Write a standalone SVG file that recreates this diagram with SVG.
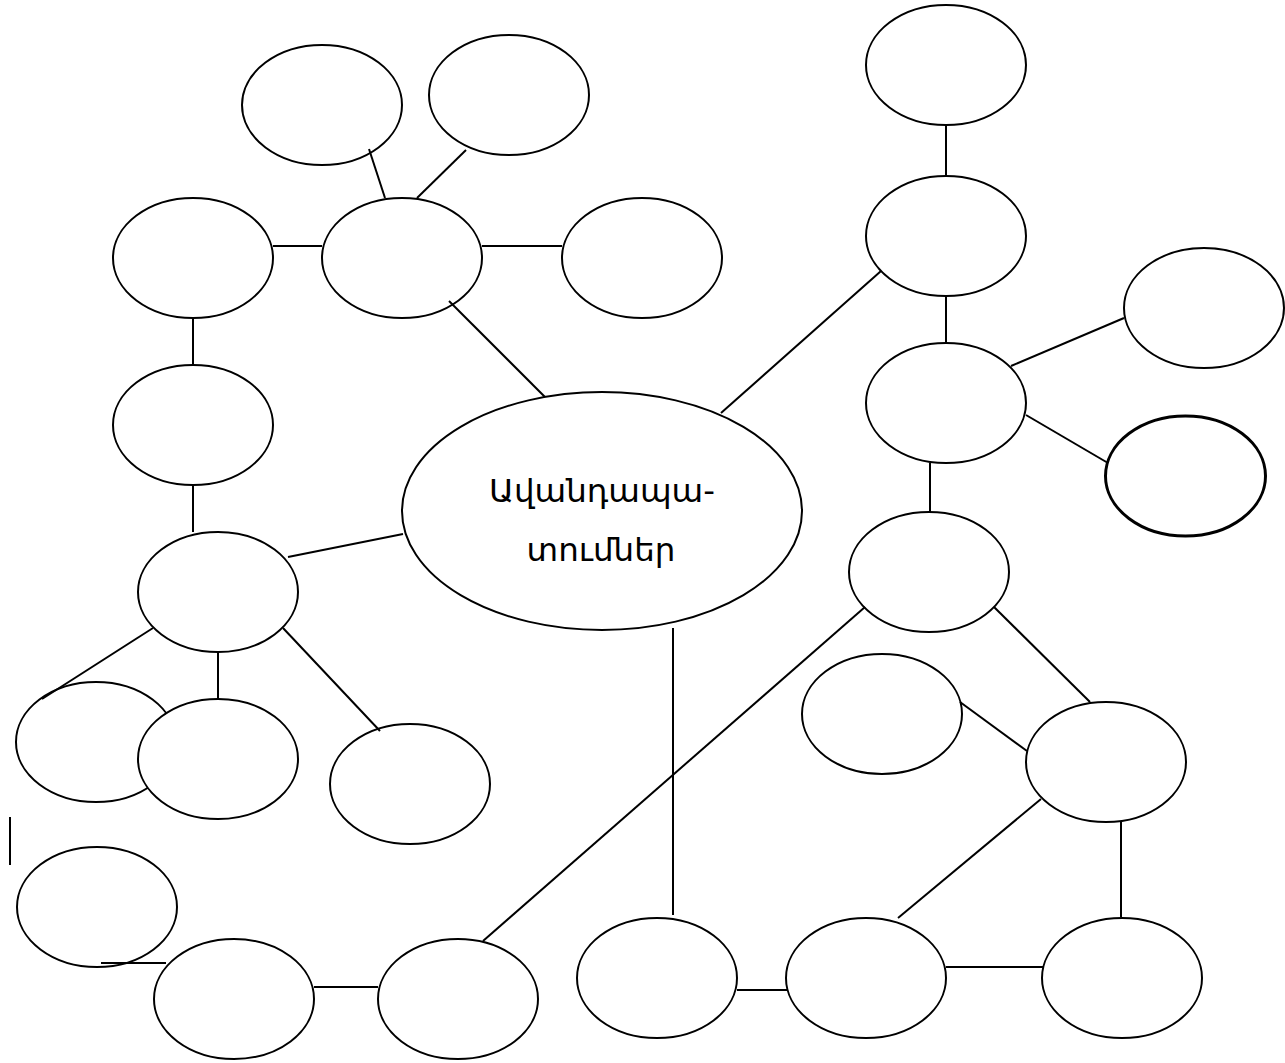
<svg xmlns="http://www.w3.org/2000/svg" width="1285" height="1063" viewBox="0 0 1285 1063">
<style>
.n ellipse{fill:#fff;stroke:#000;stroke-width:2}
.n ellipse.thick{stroke-width:3}
.c line{stroke:#000;stroke-width:2}
.t{font-family:"DejaVu Sans","Noto Sans",sans-serif;font-size:32.5px;fill:#000;text-anchor:middle}
</style>
<rect width="1285" height="1063" fill="#fff"/>
<g class="n">
<g id="center"><ellipse cx="602" cy="511" rx="200" ry="119"/><text class="t" x="602" y="502">Ավանդապա-</text><text class="t" x="601" y="561">տումներ</text></g>
<g id="n1"><ellipse cx="322" cy="105" rx="80" ry="60"/></g>
<g id="n2"><ellipse cx="509" cy="95" rx="80" ry="60"/></g>
<g id="n3"><ellipse cx="193" cy="258" rx="80" ry="60"/></g>
<g id="n4"><ellipse cx="402" cy="258" rx="80" ry="60"/></g>
<g id="n5"><ellipse cx="642" cy="258" rx="80" ry="60"/></g>
<g id="n6"><ellipse cx="193" cy="425" rx="80" ry="60"/></g>
<g id="n7"><ellipse cx="218" cy="592" rx="80" ry="60"/></g>
<g id="n8"><ellipse cx="96" cy="742" rx="80" ry="60"/></g>
<g id="n9"><ellipse cx="218" cy="759" rx="80" ry="60"/></g>
<g id="n10"><ellipse cx="410" cy="784" rx="80" ry="60"/></g>
<g id="n11"><ellipse cx="97" cy="907" rx="80" ry="60"/></g>
<g id="n12"><ellipse cx="234" cy="999" rx="80" ry="60"/></g>
<g id="n13"><ellipse cx="458" cy="999" rx="80" ry="60"/></g>
<g id="n14"><ellipse cx="657" cy="978" rx="80" ry="60"/></g>
<g id="n15"><ellipse cx="866" cy="978" rx="80" ry="60"/></g>
<g id="n16"><ellipse cx="1122" cy="978" rx="80" ry="60"/></g>
<g id="n17"><ellipse cx="1106" cy="762" rx="80" ry="60"/></g>
<g id="n18"><ellipse cx="882" cy="714" rx="80" ry="60"/></g>
<g id="n19"><ellipse cx="929" cy="572" rx="80" ry="60"/></g>
<g id="n20"><ellipse cx="946" cy="403" rx="80" ry="60"/></g>
<g id="n21"><ellipse cx="946" cy="236" rx="80" ry="60"/></g>
<g id="n22"><ellipse cx="946" cy="65" rx="80" ry="60"/></g>
<g id="n23"><ellipse cx="1204" cy="308" rx="80" ry="60"/></g>
<g id="n24"><ellipse class="thick" cx="1185.5" cy="476" rx="80" ry="60"/></g>
</g>
<g class="c" id="connectors">
<line x1="369" y1="149" x2="385" y2="198"/>
<line x1="466" y1="150" x2="417" y2="198"/>
<line x1="273" y1="246" x2="322" y2="246"/>
<line x1="482" y1="246" x2="562" y2="246"/>
<line x1="193" y1="318" x2="193" y2="365"/>
<line x1="193" y1="485" x2="193" y2="532"/>
<line x1="449" y1="301" x2="545" y2="397"/>
<line x1="288" y1="557" x2="403" y2="534"/>
<line x1="153" y1="628" x2="42" y2="699"/>
<line x1="218" y1="652" x2="218" y2="699"/>
<line x1="283" y1="628" x2="380" y2="731"/>
<line x1="10" y1="817" x2="10" y2="865"/>
<line x1="101" y1="963" x2="166" y2="963"/>
<line x1="314" y1="987" x2="378" y2="987"/>
<line x1="673" y1="628" x2="673" y2="915"/>
<line x1="737" y1="990" x2="787" y2="990"/>
<line x1="946" y1="967" x2="1043" y2="967"/>
<line x1="865" y1="607" x2="483" y2="941"/>
<line x1="1041" y1="799" x2="898" y2="918"/>
<line x1="1121" y1="822" x2="1121" y2="917"/>
<line x1="994" y1="607" x2="1090" y2="702"/>
<line x1="960" y1="702" x2="1027" y2="751"/>
<line x1="930" y1="463" x2="930" y2="512"/>
<line x1="1011" y1="366" x2="1124" y2="318"/>
<line x1="1026" y1="415" x2="1108" y2="463"/>
<line x1="721" y1="413" x2="881" y2="271"/>
<line x1="946" y1="125" x2="946" y2="176"/>
<line x1="946" y1="296" x2="946" y2="343"/>
</g>
</svg>
